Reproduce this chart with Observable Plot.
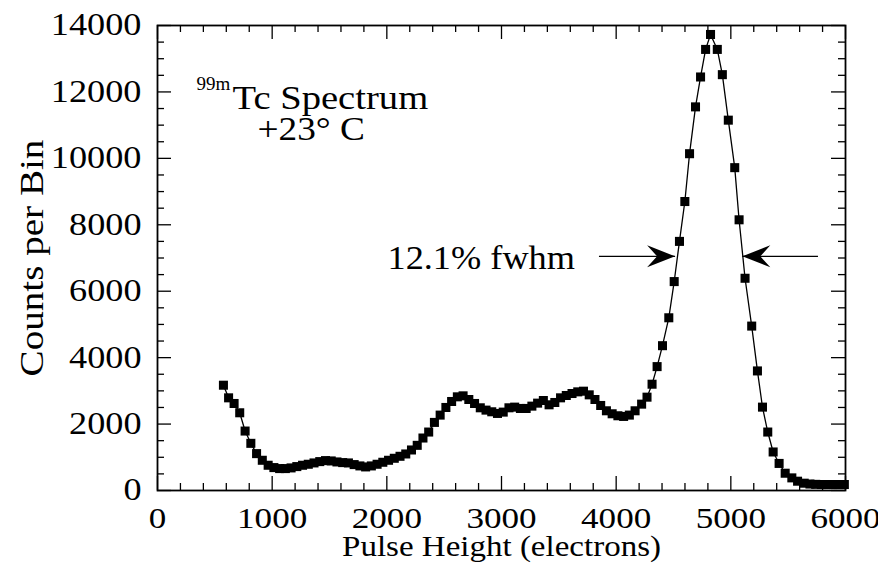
<!DOCTYPE html>
<html><head><meta charset="utf-8">
<script src="https://cdn.jsdelivr.net/npm/d3@7"></script>
<script src="https://cdn.jsdelivr.net/npm/@observablehq/plot@0.6"></script>
<style>body{margin:0;background:#fff;} svg{display:block}</style>
</head><body><div id="chart"></div>
<script>
// Bin positions (electrons) and counts per bin
const pulseHeight = [575,620,668,717,764,814,864,914,965,1015,1065,1115,1165,1215,1265,1315,1365,1415,1465,1515,1565,1615,1665,1715,1765,1815,1865,1915,1965,2015,2065,2115,2165,2215,2265,2315,2365,2415,2465,2515,2565,2615,2665,2715,2765,2815,2865,2915,2965,3015,3065,3115,3165,3215,3265,3315,3365,3415,3465,3515,3565,3615,3665,3715,3765,3815,3865,3915,3965,4015,4065,4115,4165,4222,4269,4313,4357,4404,4459,4506,4552,4599,4640,4692,4736,4780,4823,4882,4926,4978,5034,5072,5124,5182,5232,5276,5322,5369,5421,5474,5532,5582,5640,5690,5740,5790,5840,5890,5940,5990];
const counts = [3170,2790,2620,2340,1790,1420,1110,910,760,690,660,660,680,720,760,790,830,870,900,890,860,840,830,780,740,710,740,790,850,910,970,1030,1100,1220,1360,1580,1760,2050,2270,2500,2680,2820,2850,2740,2620,2490,2420,2370,2320,2360,2490,2510,2470,2470,2540,2630,2710,2580,2650,2790,2860,2920,2970,2990,2880,2740,2560,2400,2310,2250,2230,2270,2400,2600,2810,3200,3730,4360,5200,6290,7500,8700,10140,11550,12450,13280,13730,13280,12520,11150,9720,8150,6390,4950,3600,2510,1760,1160,815,520,380,280,220,195,185,180,180,180,180,180];

const xMajorTicks = [0,1000,2000,3000,4000,5000,6000];
const xMinorTicks = [200,400,600,800,1200,1400,1600,1800,2200,2400,2600,2800,3200,3400,3600,3800,4200,4400,4600,4800,5200,5400,5600,5800];
const yMajorTicks = [0,2000,4000,6000,8000,10000,12000,14000];
const yMinorTicks = [500,1000,1500,2500,3000,3500,4500,5000,5500,6500,7000,7500,8500,9000,9500,10500,11000,11500,12500,13000,13500];

const xTitle = "Pulse Height (electrons)";
const yTitle = "Counts per Bin";
const isotope = "99m";
const titleLine1 = "Tc Spectrum";
const titleLine2 = "+23° C";
const fwhmLabel = "12.1% fwhm";
const fwhmTips = [4514, 5100];
const fwhmTails = [3850, 5760];
const fwhmLevel = 7050;

const data = pulseHeight.map((x, i) => ({x, y: counts[i]}));
const arrows = fwhmTips.map((tip, i) => ({tip, tail: fwhmTails[i], y: fwhmLevel, rot: i === 0 ? 0 : 180}));

const W = 878, H = 565, mL = 157, mR = 33, mT = 25, mB = 75;
const fw = W - mL - mR, fh = H - mT - mB;
const font = "'Liberation Serif', 'Times New Roman', serif";
const majLen = 14, minLen = 7;

const arrowHead = {
  draw(ctx) {
    ctx.moveTo(0, 0);
    ctx.lineTo(-28, -11);
    ctx.lineTo(-18, 0);
    ctx.lineTo(-28, 11);
    ctx.closePath();
  }
};

const chart = Plot.plot({
  width: W, height: H,
  marginLeft: mL, marginRight: mR, marginTop: mT, marginBottom: mB,
  style: {fontFamily: font, background: "#fff", color: "#000"},
  x: {domain: [0, 6000], axis: null},
  y: {domain: [0, 14000], axis: null},
  marks: [
    Plot.ruleX(xMajorTicks, {x: d => d, insetTop: fh - majLen, stroke: "#000", strokeWidth: 1.3}),
    Plot.ruleX(xMinorTicks, {x: d => d, insetTop: fh - minLen, stroke: "#000", strokeWidth: 1.3}),
    Plot.ruleX(xMajorTicks, {x: d => d, insetBottom: fh - majLen, stroke: "#000", strokeWidth: 1.3}),
    Plot.ruleX(xMinorTicks, {x: d => d, insetBottom: fh - minLen, stroke: "#000", strokeWidth: 1.3}),
    Plot.ruleY(yMajorTicks, {y: d => d, insetRight: fw - majLen, stroke: "#000", strokeWidth: 1.3}),
    Plot.ruleY(yMinorTicks, {y: d => d, insetRight: fw - minLen, stroke: "#000", strokeWidth: 1.3}),
    Plot.ruleY(yMajorTicks, {y: d => d, insetLeft: fw - majLen, stroke: "#000", strokeWidth: 1.3}),
    Plot.ruleY(yMinorTicks, {y: d => d, insetLeft: fw - minLen, stroke: "#000", strokeWidth: 1.3}),
    Plot.frame({stroke: "#000", strokeWidth: 1.8}),
    Plot.text(xMajorTicks, {x: d => d, frameAnchor: "bottom", dy: 37, text: d => String(d), fontSize: 30, fill: "#000"}),
    Plot.text(yMajorTicks, {y: d => d, frameAnchor: "left", dx: -16, textAnchor: "end", text: d => String(d), fontSize: 31, fill: "#000"}),
    Plot.text([xTitle], {frameAnchor: "bottom", dy: 65, textAnchor: "middle", text: d => d, fontSize: 30, fill: "#000"}),
    Plot.text([yTitle], {frameAnchor: "left", dx: -125, rotate: -90, textAnchor: "middle", text: d => d, fontSize: 34, fill: "#000"}),
    Plot.text([isotope], {frameAnchor: "top-left", dx: 39, dy: 64, lineAnchor: "bottom", textAnchor: "start", text: d => d, fontSize: 19, fill: "#000"}),
    Plot.text([titleLine1], {frameAnchor: "top-left", dx: 75, dy: 83, lineAnchor: "bottom", textAnchor: "start", text: d => d, fontSize: 33, fill: "#000"}),
    Plot.text([titleLine2], {frameAnchor: "top-left", dx: 100, dy: 114, lineAnchor: "bottom", textAnchor: "start", text: d => d, fontSize: 33, fill: "#000"}),
    Plot.text([fwhmLabel], {frameAnchor: "top-left", dx: 230, dy: 243, lineAnchor: "bottom", textAnchor: "start", text: d => d, fontSize: 33, fill: "#000"}),
    Plot.link(arrows, {x1: "tail", x2: "tip", y1: "y", y2: "y", stroke: "#000", strokeWidth: 1.3}),
    Plot.dot(arrows, {x: "tip", y: "y", symbol: arrowHead, rotate: "rot", fill: "#000", stroke: "none"}),
    Plot.line(data, {x: "x", y: "y", stroke: "#000", strokeWidth: 1.3}),
    Plot.dot(data, {x: "x", y: "y", symbol: "square", r: 5.1, fill: "#000", stroke: "none"})
  ]
});
document.getElementById("chart").appendChild(chart);

// the reference typeface is wider than Liberation Serif: widen glyphs horizontally
const stretch = {[xTitle]: 1.1, [yTitle]: 1.15, [isotope]: 1.0, [titleLine1]: 1.17, [titleLine2]: 1.13, [fwhmLabel]: 1.1};
chart.querySelectorAll("text").forEach(t => {
  const k = stretch[t.textContent] ?? 1.17;
  const len = t.getComputedTextLength();
  t.setAttribute("textLength", (len * k).toFixed(1));
  t.setAttribute("lengthAdjust", "spacingAndGlyphs");
});
</script>
</body></html>
